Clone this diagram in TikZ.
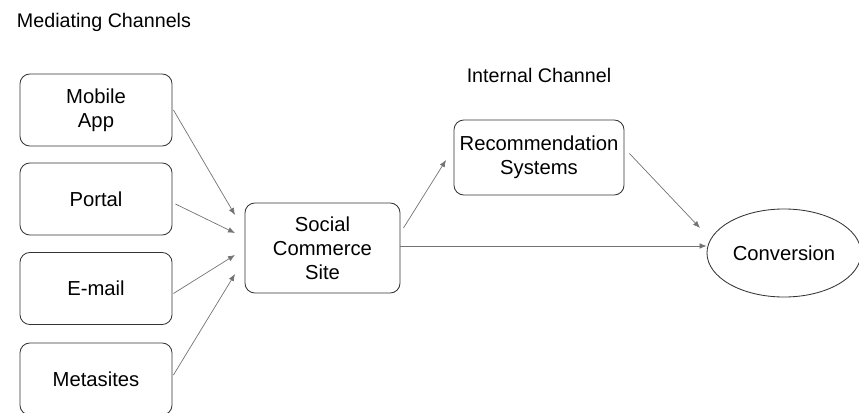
\documentclass[tikz,border=0pt]{standalone}
\usepackage{fontspec}
\setmainfont{Liberation Sans}
\usetikzlibrary{arrows.meta,shapes.geometric}
\begin{document}
\begin{tikzpicture}[x=0.025cm,y=-0.025cm,
    font=\fontsize{14}{17}\selectfont,
    chanbox/.style={draw=black!80,line width=0.6pt,rounded corners=7pt,align=center,
      font=\fontsize{14.4}{17}\selectfont,
      minimum width=3.8cm,minimum height=1.8cm,inner sep=0pt},
    flow/.style={draw=black!55,line width=0.5pt,-{Latex[length=5pt,width=4pt]}}]
      \useasboundingbox (0,0) rectangle (859,413);
      \node[anchor=west] (medlabel) at (12,22) {Mediating Channels};
      \node[] (intlabel) at (539,75) {Internal Channel};
      \node[chanbox] (mobile) at (96,110) {Mobile\\App};
      \node[chanbox] (portal) at (96,199) {Portal};
      \node[chanbox] (email) at (96,288.5) {E-mail};
      \node[chanbox] (meta) at (96,379) {Metasites};
      \node[chanbox,minimum width=3.875cm,minimum height=2.25cm] (scs) at (322.5,248) {Social\\Commerce\\Site};
      \node[chanbox,minimum width=4.25cm,minimum height=1.875cm] (rec) at (539,157.5) {Recommendation\\Systems};
      \node[draw=black!80,line width=0.6pt,ellipse,minimum width=3.85cm,minimum height=2.2cm,inner sep=0pt,
        font=\fontsize{14.4}{17}\selectfont] (conv) at (784,253) {Conversion};
      \coordinate (in1) at (235,215);
      \coordinate (in2) at (235,233);
      \coordinate (in3) at (235,255);
      \coordinate (in4) at (235,274);
      \coordinate (toRec) at (446,160);
      \coordinate (toConv) at (700,228);
      \draw[flow] (mobile.east) ++(1,0) -- (in1);
      \draw[flow] (portal.east) ++(3,5) -- (in2);
      \draw[flow] (email.east) ++(1,5) -- (in3);
      \draw[flow] (meta.east) ++(1,-4) -- (in4);
      \draw[flow] (scs.east) ++(3,-20) -- (toRec);
      \draw[flow] (scs.east |- conv.west) ++(0,-7) -- (conv.west |- 0,246);
      \draw[flow] (rec.east) ++(5,-4) -- (toConv);
\end{tikzpicture}
\end{document}
